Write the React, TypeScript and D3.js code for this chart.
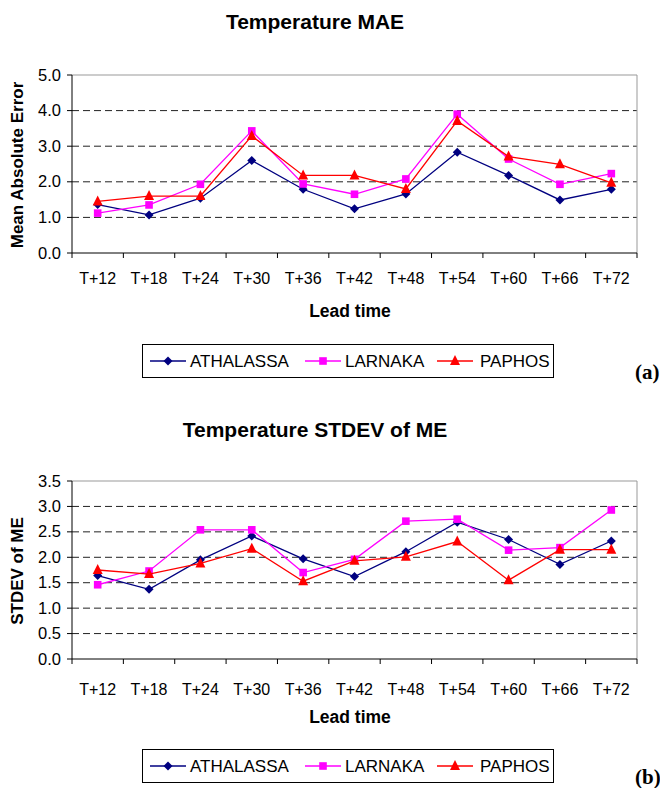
import React from "react";
import * as d3 from "d3";

const categories = ["T+12", "T+18", "T+24", "T+30", "T+36", "T+42", "T+48", "T+54", "T+60", "T+66", "T+72"];
const seriesNames = ["ATHALASSA", "LARNAKA", "PAPHOS"];

const maeAthalassa = [1.36, 1.07, 1.54, 2.6, 1.79, 1.24, 1.66, 2.83, 2.18, 1.49, 1.79];
const maeLarnaka = [1.12, 1.35, 1.93, 3.43, 1.94, 1.65, 2.08, 3.9, 2.64, 1.93, 2.23];
const maePaphos = [1.45, 1.6, 1.6, 3.29, 2.18, 2.18, 1.8, 3.71, 2.71, 2.49, 1.97];
const maeTicks = [0, 1, 2, 3, 4, 5];

const sdAthalassa = [1.64, 1.37, 1.95, 2.42, 1.97, 1.62, 2.11, 2.69, 2.35, 1.86, 2.32];
const sdLarnaka = [1.46, 1.73, 2.54, 2.54, 1.7, 1.96, 2.71, 2.75, 2.14, 2.19, 2.93];
const sdPaphos = [1.75, 1.67, 1.88, 2.17, 1.53, 1.93, 2.01, 2.31, 1.55, 2.15, 2.15];
const sdTicks = [0, 0.5, 1, 1.5, 2, 2.5, 3, 3.5];

const colors = ["#000080", "#FF00FF", "#FF0000"];
const FONT = "'Liberation Sans', Arial, sans-serif";

function Marker({ kind, x, y, color }: { kind: number; x: number; y: number; color: string }) {
  if (kind === 0) {
    const s = 4.5;
    return <path d={`M${x},${y - s}L${x + s},${y}L${x},${y + s}L${x - s},${y}Z`} fill={color} />;
  }
  if (kind === 1) {
    const s = 3.8;
    return <rect x={x - s} y={y - s} width={2 * s} height={2 * s} fill={color} />;
  }
  const s = 5;
  return <path d={`M${x},${y - s - 1}L${x + s},${y + s - 1}L${x - s},${y + s - 1}Z`} fill={color} />;
}

function Chart({
  top, title, yTitle, max, ticks, data, tag, plotTop, plotBottom, legendTop, xLabelOffset,
}: {
  top: number; title: string; yTitle: string; max: number; ticks: number[]; data: number[][]; tag: string;
  plotTop: number; plotBottom: number; legendTop: number; xLabelOffset: number;
}) {
  const left = 72, right = 637;
  const x = d3.scaleBand<string>().domain(categories).range([left, right]);
  const y = d3.scaleLinear().domain([0, max]).range([plotBottom, plotTop]);
  const line = d3.line<number>().x((_, i) => x(categories[i])! + x.bandwidth() / 2).y((d) => y(d));
  const legendItems = [
    { lx: 150, tx: 190 },
    { lx: 305, tx: 345 },
    { lx: 437, tx: 480 },
  ];
  return (
    <g>
      <text x={315} y={top + 29} textAnchor="middle" fontFamily={FONT} fontWeight="bold" fontSize={21}>{title}</text>
      {ticks.map((t) => (
        <g key={t}>
          {t > 0 && t < max && (
            <line x1={left} x2={right} y1={y(t)} y2={y(t)} stroke="#222" strokeWidth={1} strokeDasharray="7,4" />
          )}
          <line x1={left - 5} x2={left} y1={y(t)} y2={y(t)} stroke="#000" />
          <text x={left - 11} y={y(t) + 5.5} textAnchor="end" fontFamily={FONT} fontSize={16.5}>{t.toFixed(1)}</text>
        </g>
      ))}
      <line x1={left} x2={right} y1={plotTop} y2={plotTop} stroke="#999" />
      <line x1={right} x2={right} y1={plotTop} y2={plotBottom} stroke="#999" />
      <line x1={left} x2={left} y1={plotTop} y2={plotBottom} stroke="#000" />
      <line x1={left} x2={right} y1={plotBottom} y2={plotBottom} stroke="#000" />
      {categories.map((c, i) => (
        <g key={c}>
          <line x1={x(c)!} x2={x(c)!} y1={plotBottom} y2={plotBottom + 5} stroke="#000" />
          {i === categories.length - 1 && (
            <line x1={right} x2={right} y1={plotBottom} y2={plotBottom + 5} stroke="#000" />
          )}
          <text x={x(c)! + x.bandwidth() / 2} y={plotBottom + xLabelOffset} textAnchor="middle" fontFamily={FONT} fontSize={16}>{c}</text>
        </g>
      ))}
      <text x={350} y={plotBottom + 64} textAnchor="middle" fontFamily={FONT} fontWeight="bold" fontSize={17.5}>Lead time</text>
      <text transform={`translate(23,${(plotTop + plotBottom) / 2 + 1}) rotate(-90)`} textAnchor="middle" fontFamily={FONT} fontWeight="bold" fontSize={17}>{yTitle}</text>
      {data.map((s, k) => (
        <g key={k}>
          <path d={line(s)!} fill="none" stroke={colors[k]} strokeWidth={1.3} />
          {s.map((v, i) => (
            <Marker key={i} kind={k} x={x(categories[i])! + x.bandwidth() / 2} y={y(v)} color={colors[k]} />
          ))}
        </g>
      ))}
      <rect x={142.5} y={legendTop + 0.5} width={411} height={33} fill="#fff" stroke="#000" />
      {seriesNames.map((n, k) => (
        <g key={n}>
          <line x1={legendItems[k].lx} x2={legendItems[k].lx + 36} y1={legendTop + 17} y2={legendTop + 17} stroke={colors[k]} strokeWidth={1.3} />
          <Marker kind={k} x={legendItems[k].lx + 18} y={legendTop + 17} color={colors[k]} />
          <text x={legendItems[k].tx} y={legendTop + 23} fontFamily={FONT} fontSize={17}>{n}</text>
        </g>
      ))}
      <text x={635} y={legendTop + 35} fontFamily="'Liberation Serif', 'Times New Roman', serif" fontWeight="bold" fontSize={21}>{tag}</text>
    </g>
  );
}

export default function App() {
  return (
    <svg width={660} height={788} style={{ position: "absolute", left: 0, top: 0, background: "#fff" }}>
      <rect width={660} height={788} fill="#fff" />
      <Chart top={0} title="Temperature MAE" yTitle="Mean Absolute Error" max={5} ticks={maeTicks}
        data={[maeAthalassa, maeLarnaka, maePaphos]} tag="(a)" plotTop={75} plotBottom={253} legendTop={344} xLabelOffset={31} />
      <Chart top={408} title="Temperature STDEV of ME" yTitle="STDEV of ME" max={3.5} ticks={sdTicks}
        data={[sdAthalassa, sdLarnaka, sdPaphos]} tag="(b)" plotTop={481} plotBottom={659} legendTop={749} xLabelOffset={36} />
    </svg>
  );
}
